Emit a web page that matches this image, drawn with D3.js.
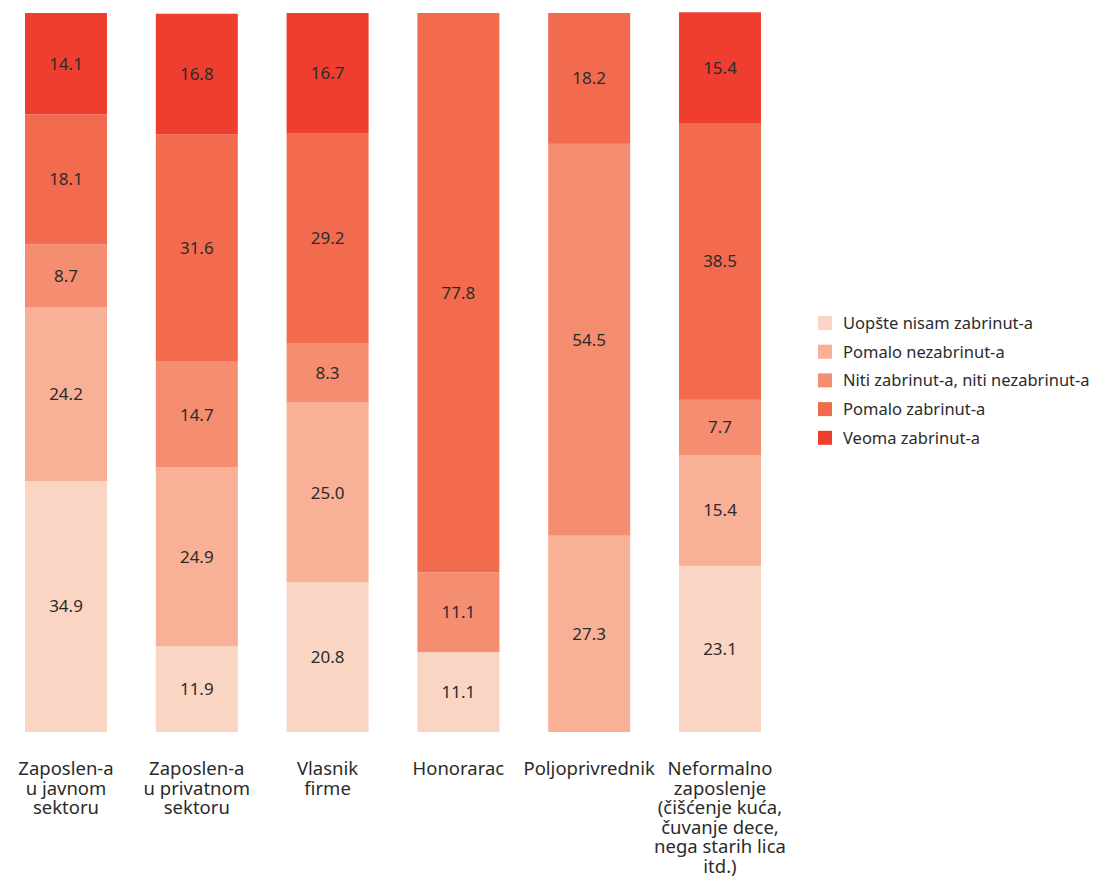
<!DOCTYPE html>
<html>
<head>
<meta charset="utf-8">
<script src="https://cdn.jsdelivr.net/npm/d3@7"></script>
<style>
  html, body { margin: 0; padding: 0; background: #fff; }
  svg { display: block; font-family: "Noto Sans", "DejaVu Sans", sans-serif; }
</style>
</head>
<body>
<svg id="chart" width="1112" height="876"></svg>
<script>
const categories = [
  ["Zaposlen-a", "u javnom", "sektoru"],
  ["Zaposlen-a", "u privatnom", "sektoru"],
  ["Vlasnik", "firme"],
  ["Honorarac"],
  ["Poljoprivrednik"],
  ["Neformalno", "zaposlenje", "(čišćenje kuća,", "čuvanje dece,", "nega starih lica", "itd.)"]
];
const seriesNames = [
  "Uopšte nisam zabrinut-a",
  "Pomalo nezabrinut-a",
  "Niti zabrinut-a, niti nezabrinut-a",
  "Pomalo zabrinut-a",
  "Veoma zabrinut-a"
];
const uopste    = [34.9, 11.9, 20.8, 11.1, 0,    23.1];
const nezabr    = [24.2, 24.9, 25.0, 0,    27.3, 15.4];
const niti      = [8.7,  14.7, 8.3,  11.1, 54.5, 7.7];
const pomaloZab = [18.1, 31.6, 29.2, 77.8, 18.2, 38.5];
const veoma     = [14.1, 16.8, 16.7, 0,    0,    15.4];
const colors = ["#fad5c4", "#f8b097", "#f58e70", "#f26b4f", "#ef3e2f"];

const series = [uopste, nezabr, niti, pomaloZab, veoma];
const rows = categories.map((c, i) => {
  const r = { idx: i };
  series.forEach((s, k) => r[k] = s[i]);
  return r;
});
const stack = d3.stack().keys(d3.range(series.length))(rows);

const svg = d3.select("#chart");
const x = d3.scaleBand().domain(d3.range(categories.length)).range([25, 761]).paddingInner(0.373).paddingOuter(0);
const y = d3.scaleLinear().domain([0, 100]).range([732, 13]);

const g = svg.append("g");
stack.forEach((layer, k) => {
  const lg = g.append("g");
  const vis = layer.filter(d => d[1] - d[0] > 0);
  lg.selectAll("rect").data(vis).join("rect")
    .attr("x", d => x(d.data.idx))
    .attr("width", x.bandwidth())
    .attr("y", d => y(d[1]))
    .attr("height", d => y(d[0]) - y(d[1]))
    .attr("fill", colors[k]);
  lg.selectAll("text").data(vis).join("text")
    .attr("x", d => x(d.data.idx) + x.bandwidth() / 2)
    .attr("y", d => (y(d[0]) + y(d[1])) / 2)
    .attr("dy", "0.35em")
    .attr("text-anchor", "middle")
    .attr("font-size", 17)
    .attr("fill", "#2b2b2b")
    .text(d => (d[1] - d[0]).toFixed(1));
});

// category labels
const lab = svg.append("g");
categories.forEach((lines, i) => {
  const t = lab.append("text")
    .attr("text-anchor", "middle")
    .attr("font-size", 18.5)
    .attr("fill", "#2b2b2b");
  lines.forEach((ln, j) => {
    t.append("tspan")
      .attr("x", x(i) + x.bandwidth() / 2)
      .attr("y", 775 + j * 19.6)
      .text(ln);
  });
});

// legend
const leg = svg.append("g").attr("transform", "translate(818,316)");
seriesNames.forEach((n, k) => {
  const row = leg.append("g").attr("transform", `translate(0,${k * 28.7})`);
  row.append("rect").attr("width", 14).attr("height", 14).attr("fill", colors[k]);
  row.append("text").attr("x", 25).attr("y", 7).attr("dy", "0.36em")
    .attr("font-size", 16.5).attr("fill", "#2b2b2b").text(n);
});
</script>
</body>
</html>
